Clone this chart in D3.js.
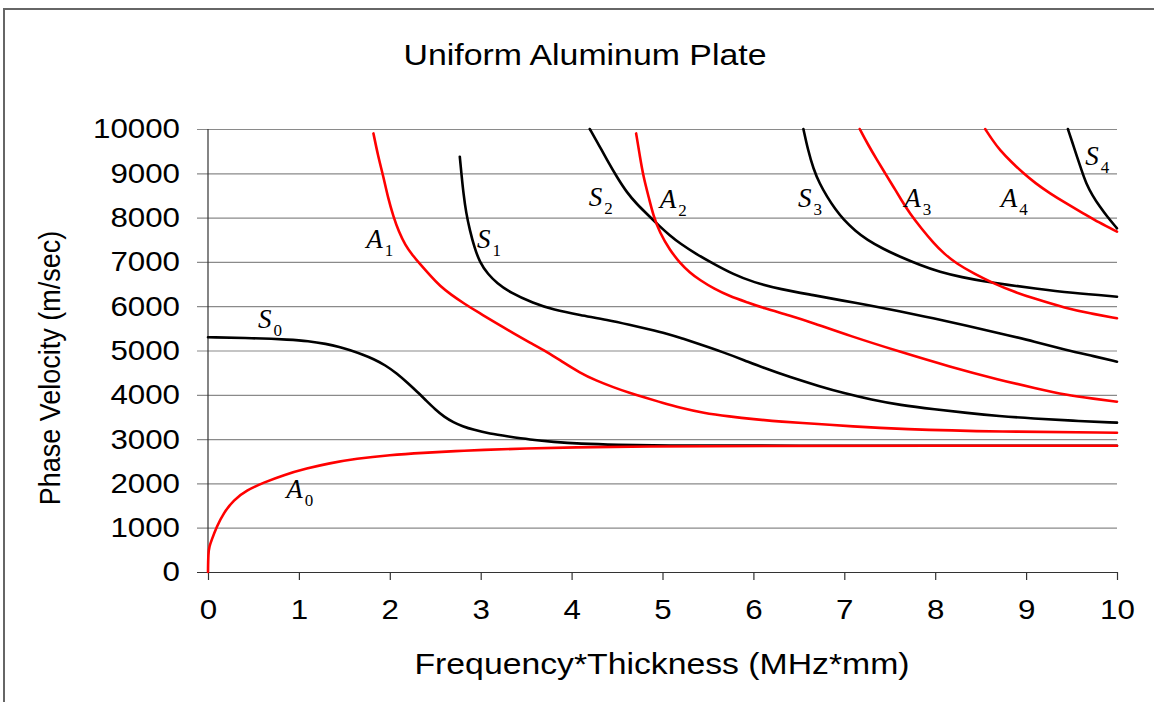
<!DOCTYPE html>
<html>
<head>
<meta charset="utf-8">
<script src="https://cdn.jsdelivr.net/npm/d3@7"></script>
<style>
  html, body { margin: 0; padding: 0; background: #fff; }
  svg { display: block; }
  .sans { font-family: "Liberation Sans", Arial, sans-serif; fill: #000; }
  .mode { font-family: "Liberation Serif", "Times New Roman", serif; font-style: italic; fill: #000; }
</style>
</head>
<body>
<script>
// Lamb-wave dispersion curves (phase velocity) for a uniform aluminum plate
const xTicks = [0, 1, 2, 3, 4, 5, 6, 7, 8, 9, 10];
const yTicks = [0, 1000, 2000, 3000, 4000, 5000, 6000, 7000, 8000, 9000, 10000];

// [frequency*thickness (MHz*mm), phase velocity (m/s)]
const S0 = [[0,5300],[0.5,5280],[0.9,5245],[1.1,5215],[1.3,5150],[1.45,5080],[1.56,5010],[1.7,4910],
  [1.82,4810],[1.95,4670],[2.08,4480],[2.2,4260],[2.3,4070],[2.4,3870],[2.5,3670],[2.6,3500],[2.7,3380],
  [2.8,3290],[2.92,3210],[3.1,3120],[3.3,3060],[3.54,2990],[3.8,2935],[4.09,2895],[4.5,2870],[5,2855],
  [6,2850],[10,2850]];
const S1 = [[2.77,9375],[2.79,8950],[2.81,8550],[2.84,8100],[2.88,7720],[2.93,7330],[2.99,6990],[3.08,6720],
  [3.18,6520],[3.32,6310],[3.58,6065],[3.8,5920],[4.09,5800],[4.4,5690],[4.64,5580],[4.85,5480],[5.05,5380],
  [5.22,5270],[5.38,5160],[5.67,4960],[5.9,4780],[6.11,4610],[6.4,4400],[6.73,4190],[6.99,4040],[7.3,3890],
  [7.61,3770],[8.0,3670],[8.35,3590],[8.7,3520],[9.08,3465],[9.5,3415],[10,3371]];
const S2 = [[4.2,10000],[4.3,9640],[4.39,9300],[4.5,8910],[4.61,8560],[4.72,8300],[4.83,8080],[4.97,7800],
  [5.08,7600],[5.19,7420],[5.37,7180],[5.56,6960],[5.78,6720],[6.0,6540],[6.3,6380],[6.66,6250],[7.0,6120],
  [7.25,6027],[7.6,5890],[7.98,5727],[8.35,5560],[8.71,5388],[9.1,5200],[9.44,5011],[9.75,4870],[10,4747]];
const S3 = [[6.55,10000],[6.6,9530],[6.66,9100],[6.73,8760],[6.81,8472],[6.9,8190],[6.99,7960],[7.12,7700],
  [7.25,7500],[7.43,7290],[7.61,7118],[7.83,6930],[8.05,6770],[8.3,6650],[8.53,6565],[8.8,6480],[9.08,6404],
  [9.5,6300],[10,6215]];
const S4 = [[9.46,10000],[9.51,9690],[9.56,9375],[9.61,9070],[9.66,8773],[9.73,8500],[9.81,8247],[9.9,8000],[10,7758]];

const A0 = [[0,0],[0.003,420],[0.015,580],[0.04,722],[0.095,1022],[0.17,1325],[0.28,1625],[0.43,1851],
  [0.61,2016],[0.83,2190],[1.09,2341],[1.33,2453],[1.63,2560],[2.0,2640],[2.37,2690],[2.74,2730],[3.0,2755],
  [3.5,2790],[4.0,2815],[4.8,2835],[6,2845],[8,2850],[10,2850]];
const A1 = [[1.82,9900],[1.87,9400],[1.93,8920],[1.98,8450],[2.04,8020],[2.1,7680],[2.17,7380],[2.25,7150],
  [2.33,6960],[2.45,6680],[2.55,6460],[2.68,6250],[2.81,6070],[2.99,5840],[3.17,5620],[3.36,5390],[3.54,5180],
  [3.73,4970],[3.91,4730],[4.09,4500],[4.27,4320],[4.46,4170],[4.64,4040],[4.8,3940],[5.0,3820],[5.19,3710],
  [5.45,3590],[5.74,3510],[6.0,3450],[6.29,3395],[6.73,3340],[7.06,3290],[7.61,3225],[8.71,3167],[10,3145]];
const A2 = [[4.71,9900],[4.75,9400],[4.79,8920],[4.85,8450],[4.9,8040],[4.97,7660],[5.08,7269],[5.19,6980],
  [5.3,6760],[5.41,6591],[5.57,6390],[5.74,6225],[5.93,6090],[6.11,5960],[6.4,5790],[6.66,5620],[7.06,5330],
  [7.61,4973],[8.16,4634],[8.71,4334],[9.1,4150],[9.44,3995],[9.75,3910],[10,3845]];
const A3 = [[7.17,10000],[7.26,9650],[7.36,9300],[7.45,9000],[7.54,8697],[7.63,8390],[7.72,8096],[7.85,7750],
  [7.98,7430],[8.1,7180],[8.23,6968],[8.43,6730],[8.64,6517],[8.86,6330],[9.08,6178],[9.44,5953],[9.7,5840],[10,5727]];
const A4 = [[8.55,10000],[8.63,9750],[8.71,9526],[8.84,9250],[8.97,9000],[9.1,8780],[9.26,8548],[9.45,8310],
  [9.63,8097],[9.8,7890],[10,7682]];

const symmetricModes = [S0, S1, S2, S3, S4];
const antisymmetricModes = [A0, A1, A2, A3, A4];

// mode labels: letter, subscript, anchor (left edge, baseline) in data units
const modeLabels = [
  ["S", "0", 0.55, 5508], ["A", "0", 0.86, 1670], ["A", "1", 1.74, 7314], ["S", "1", 2.96, 7314],
  ["S", "2", 4.19, 8262], ["A", "2", 4.97, 8217], ["S", "3", 6.49, 8239], ["A", "3", 7.66, 8239],
  ["A", "4", 8.72, 8239], ["S", "4", 9.65, 9187]
];

const W = 1154, H = 702;
const svg = d3.select("body").append("svg").attr("width", W).attr("height", H);

// outer frame
svg.append("rect").attr("x", 4).attr("y", 9).attr("width", W + 10).attr("height", H + 10)
  .attr("fill", "none").attr("stroke", "#666").attr("stroke-width", 2);

const x = d3.scaleLinear().domain([0, 10]).range([208, 1117]);
const y = d3.scaleLinear().domain([0, 10000]).range([572, 129]);

// horizontal gridlines with left tick labels
const yAxis = svg.append("g").attr("transform", "translate(197,0)")
  .call(d3.axisLeft(y).tickValues(yTicks).tickSize(-(1117 - 197)).tickPadding(17).tickFormat(d3.format("d")));
yAxis.select(".domain").remove();
yAxis.selectAll(".tick line").attr("stroke", d => d === 0 ? "#333" : "#8a8a8a").attr("stroke-width", 1.2);
yAxis.selectAll(".tick text").attr("class", "sans").style("font-size", "28px")
  .attr("textLength", d => String(d).length * 17.4).attr("lengthAdjust", "spacingAndGlyphs");

// vertical axis line
svg.append("line").attr("x1", x(0)).attr("x2", x(0)).attr("y1", y(10000)).attr("y2", y(0))
  .attr("stroke", "#333").attr("stroke-width", 1.2);

// bottom axis ticks and labels
const xAxis = svg.append("g").attr("transform", `translate(0,${y(0)})`)
  .call(d3.axisBottom(x).tickValues(xTicks).tickSize(8).tickPadding(19).tickFormat(d3.format("d")));
xAxis.select(".domain").remove();
xAxis.selectAll(".tick line").attr("stroke", "#333").attr("stroke-width", 1.2);
xAxis.selectAll(".tick text").attr("class", "sans").style("font-size", "28px")
  .attr("textLength", d => String(d).length * 17.4).attr("lengthAdjust", "spacingAndGlyphs");

// dispersion curves (B-spline through the sampled points)
const line = d3.line().x(d => x(d[0])).y(d => y(d[1])).curve(d3.curveBasis);
const curves = svg.append("g").attr("fill", "none").attr("stroke-width", 2.6)
  .attr("stroke-linejoin", "round").attr("stroke-linecap", "round");
curves.selectAll("path.sym").data(symmetricModes).join("path").attr("class", "sym")
  .attr("d", line).attr("stroke", "#000");
curves.selectAll("path.anti").data(antisymmetricModes).join("path").attr("class", "anti")
  .attr("d", line).attr("stroke", "#ff0000");

// mode labels
const labels = svg.append("g").selectAll("text").data(modeLabels).join("text")
  .attr("class", "mode").attr("x", d => x(d[2])).attr("y", d => y(d[3])).style("font-size", "27px");
labels.append("tspan").text(d => d[0]);
labels.append("tspan").attr("dx", 2).attr("dy", 8).style("font-size", "17px").style("font-style", "normal").text(d => d[1]);

// titles
svg.append("text").attr("class", "sans").attr("x", 585).attr("y", 65).attr("text-anchor", "middle")
  .style("font-size", "30px").attr("textLength", 363).attr("lengthAdjust", "spacingAndGlyphs")
  .text("Uniform Aluminum Plate");
svg.append("text").attr("class", "sans").attr("x", 662).attr("y", 674).attr("text-anchor", "middle")
  .style("font-size", "30px").attr("textLength", 495).attr("lengthAdjust", "spacingAndGlyphs")
  .text("Frequency*Thickness (MHz*mm)");
svg.append("text").attr("class", "sans").attr("text-anchor", "middle")
  .attr("transform", "translate(60,368) scale(1.12,1) rotate(-90)")
  .style("font-size", "27px").text("Phase Velocity (m/sec)");
</script>
</body>
</html>
